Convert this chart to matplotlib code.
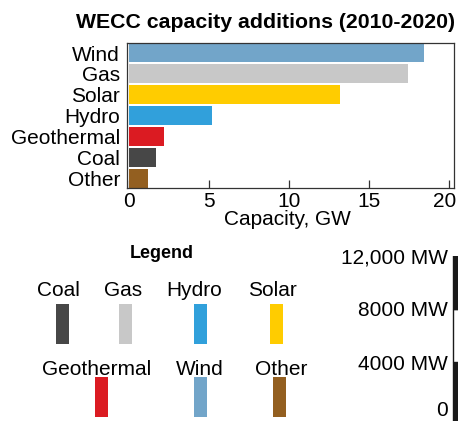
import matplotlib
matplotlib.use("Agg")
import matplotlib.pyplot as plt
import matplotlib.transforms as mtransforms

plt.rcParams['font.family'] = ['Liberation Sans', 'DejaVu Sans']

# ---------------- data ----------------
categories = ["Wind", "Gas", "Solar", "Hydro", "Geothermal", "Coal", "Other"]
capacity_gw = [18.4, 17.4, 13.2, 5.2, 2.2, 1.7, 1.2]
bar_colors = ["#72a5c9", "#c8c8c8", "#ffcc00", "#31a0db", "#db1b22", "#474747", "#935f20"]
x_ticks = [0, 5, 10, 15, 20]
title = "WECC capacity additions (2010-2020)"
x_label = "Capacity, GW"

legend_row1 = ["Coal", "Gas", "Hydro", "Solar"]
legend_row2 = ["Geothermal", "Wind", "Other"]
legend_title = "Legend"

scale_ticks = [0, 4000, 8000, 12000]
scale_labels = ["0", "4000 MW", "8000 MW", "12,000 MW"]
scale_bottoms = [-1000, 4000, 8000]
scale_heights = [5000, 4000, 4000]
scale_fills = ["#1a1a1a", "white", "#1a1a1a"]

color_of = dict(zip(categories, bar_colors))

W, H = 458, 421
fig = plt.figure(figsize=(W / 100, H / 100), dpi=100)

def px_rect(x0, y0, x1, y1):
    return [x0 / W, 1 - y1 / H, (x1 - x0) / W, (y1 - y0) / H]

# ---------------- main bar chart ----------------
ax = fig.add_axes(px_rect(127, 43, 454, 188))
ypos = list(range(len(categories) - 1, -1, -1))
ax.barh(ypos, capacity_gw, height=0.9, color=bar_colors, zorder=2)
ax.set_ylim(-0.47, 6.48)
ax.set_xlim(-0.1, 20.3)
ax.set_yticks(ypos)
ax.set_yticklabels(categories, fontsize=15)
ax.set_xticks(x_ticks)
ax.set_xticklabels([str(t) for t in x_ticks], fontsize=15)
ax.tick_params(axis='y', length=0, pad=5)
ax.tick_params(axis='x', direction='in', length=6, width=0.9, color='#333333', pad=3)
for s in ax.spines.values():
    s.set_color('#333333')
    s.set_linewidth(0.9)
# nudge last tick label inside the figure
lbl = ax.get_xticklabels()[-1]
lbl.set_transform(lbl.get_transform() + mtransforms.ScaledTranslation(-5 / 100, 0, fig.dpi_scale_trans))

fig.text(266 / W, 1 - 27.5 / H, title, ha='center', va='baseline',
         fontsize=15.3, fontweight='bold')
fig.text(287 / W, 1 - 225 / H, x_label, ha='center', va='baseline', fontsize=15)

# ---------------- legend ----------------
lax = fig.add_axes([0, 0, 1, 1])
lax.set_xlim(0, W)
lax.set_ylim(H, 0)
lax.axis('off')

lax.text(162, 258, legend_title, ha='center', va='baseline', fontsize=13, fontweight='bold')

row1_label_x = [58, 123, 194, 272]
row1_swatch_x = [62.5, 125.5, 200.5, 276.5]
row2_label_x = [97, 200, 281]
row2_swatch_x = [101.5, 200.5, 279.5]

for names, lx, sx, base, top in [(legend_row1, row1_label_x, row1_swatch_x, 296.5, 304),
                                 (legend_row2, row2_label_x, row2_swatch_x, 375, 377)]:
    lax.bar(sx, [40] * len(names), bottom=top, width=13,
            color=[color_of[n] for n in names])
    for n, x in zip(names, lx):
        lax.text(x, base, n, ha='center', va='baseline', fontsize=15)

# ---------------- scale bar ----------------
sax = fig.add_axes([450 / W, 0, 12 / W, 165.5 / H])
sax.set_xlim(-0.5, 0.5)
sax.set_ylim(-412, 12000)
sax.bar([-0.21] * 3, scale_heights, bottom=scale_bottoms, width=1.0, align='edge',
        color=scale_fills, edgecolor='#1a1a1a', linewidth=1.0)
sax.set_yticks(scale_ticks)
sax.set_yticklabels(scale_labels, fontsize=15)
sax.tick_params(axis='y', length=0, pad=1.5)
sax.set_xticks([])
for s in sax.spines.values():
    s.set_visible(False)
sax.patch.set_alpha(0)
zero_lbl = sax.get_yticklabels()[0]
zero_lbl.set_transform(zero_lbl.get_transform() + mtransforms.ScaledTranslation(0, 7 / 100, fig.dpi_scale_trans))

fig.savefig("out.png", dpi=100)
